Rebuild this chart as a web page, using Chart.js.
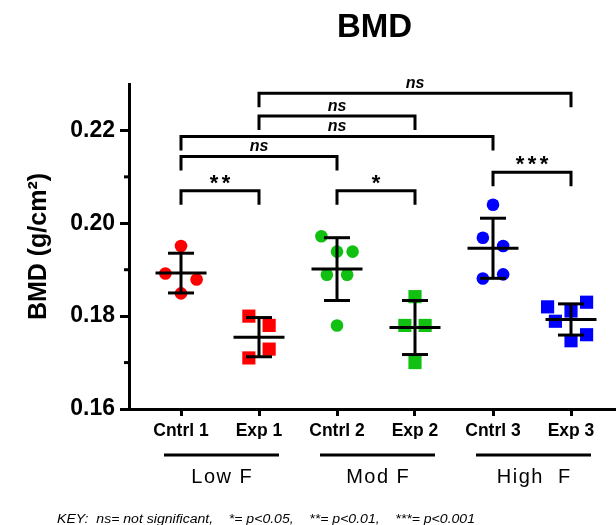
<!DOCTYPE html>
<html>
<head>
<meta charset="utf-8">
<title>BMD</title>
<script src="https://cdn.jsdelivr.net/npm/chart.js@4.4.1/dist/chart.umd.min.js"></script>
<style>
  html, body { margin: 0; padding: 0; background: #fff; }
  #wrap { width: 616px; height: 525px; position: relative; }
</style>
</head>
<body>
<div id="wrap"><canvas id="chartBMD"></canvas></div>
<script>
// BMD per animal (g/cm2)
const categories = ['Cntrl 1', 'Exp 1', 'Cntrl 2', 'Exp 2', 'Cntrl 3', 'Exp 3'];
const groups = ['Low F', 'Mod F', 'High  F'];

const cntrl1 = [0.1951, 0.1892, 0.1879, 0.1849];
const exp1   = [0.1800, 0.1780, 0.1729, 0.1710];
const cntrl2 = [0.1972, 0.1939, 0.1939, 0.1889, 0.1889, 0.1780];
const exp2   = [0.1842, 0.1780, 0.1780, 0.1700];
const cntrl3 = [0.2040, 0.1969, 0.1951, 0.1881, 0.1890];
const exp3   = [0.1820, 0.1830, 0.1789, 0.1811, 0.1747, 0.1760];

const yMajorTicks = [0.16, 0.18, 0.20, 0.22];
const yMinorTicks = [0.17, 0.19, 0.21];

// significance brackets (category numbers, label, bracket level in g/cm2)
const compFrom  = [1, 3, 5, 1, 1, 2, 2];
const compTo    = [2, 4, 6, 3, 5, 4, 6];
const compLabel = ['**', '*', '***', 'ns', 'ns', 'ns', 'ns'];
const compLevel = [0.2070, 0.2070, 0.2110, 0.2144, 0.2187, 0.2231, 0.2280];

const keyText = 'KEY:  ns= not significant,    *= p<0.05,    **= p<0.01,    ***= p<0.001';

// horizontal scatter of the dots, in category units
const jitter = [
  [0, -0.2, 0.2, 0],
  [-0.13, 0.13, 0.13, -0.13],
  [-0.2, 0, 0.2, -0.13, 0.13, 0],
  [0, -0.13, 0.13, 0],
  [0, -0.13, 0.13, -0.13, 0.13],
  [-0.3, 0.2, -0.2, 0, 0, 0.2]
];

const series = [cntrl1, exp1, cntrl2, exp2, cntrl3, exp3];
const colors = ['#ff0000', '#ff0000', '#11c011', '#11c011', '#0000ff', '#0000ff'];
const FONT = '"Liberation Sans", Arial, sans-serif';

function mean(a) { return a.reduce((s, v) => s + v, 0) / a.length; }
function sd(a) {
  const m = mean(a);
  return Math.sqrt(a.reduce((s, v) => s + (v - m) * (v - m), 0) / (a.length - 1));
}
function line(ctx, x1, y1, x2, y2) {
  ctx.beginPath(); ctx.moveTo(x1, y1); ctx.lineTo(x2, y2); ctx.stroke();
}
function spacedText(ctx, text, cx, y, gap) {
  const widths = [...text].map(c => ctx.measureText(c).width);
  const total = widths.reduce((s, w) => s + w, 0) + gap * (text.length - 1);
  let x = cx - total / 2;
  ctx.textAlign = 'left';
  [...text].forEach((c, i) => { ctx.fillText(c, x, y); x += widths[i] + gap; });
}

const extras = {
  id: 'extras',
  afterDatasetsDraw(chart) {
    const { ctx, scales: { x, y } } = chart;
    ctx.save();
    ctx.strokeStyle = '#000';
    ctx.fillStyle = '#000';
    ctx.lineWidth = 3;
    // mean +/- SD
    series.forEach((vals, i) => {
      const m = mean(vals), s = sd(vals);
      const px = x.getPixelForValue(i + 1);
      const pm = y.getPixelForValue(m), pt = y.getPixelForValue(m + s), pb = y.getPixelForValue(m - s);
      line(ctx, px - 25.5, pm, px + 25.5, pm);
      line(ctx, px - 13, pt, px + 13, pt);
      line(ctx, px - 13, pb, px + 13, pb);
      line(ctx, px, pt, px, pb);
    });
    // brackets
    compFrom.forEach((a, i) => {
      const x1 = x.getPixelForValue(a), x2 = x.getPixelForValue(compTo[i]);
      const yl = y.getPixelForValue(compLevel[i]);
      ctx.beginPath();
      ctx.moveTo(x1, yl + 14); ctx.lineTo(x1, yl); ctx.lineTo(x2, yl); ctx.lineTo(x2, yl + 14);
      ctx.stroke();
      const mid = (x1 + x2) / 2;
      ctx.textBaseline = 'alphabetic';
      if (compLabel[i] === 'ns') {
        ctx.font = 'italic bold 16px ' + FONT;
        ctx.textAlign = 'center';
        ctx.fillText('ns', mid, yl - 5);
      } else {
        ctx.font = 'bold 22px ' + FONT;
        ctx.textAlign = 'center';
        const n = compLabel[i].length;
        for (let k = 0; k < n; k++) ctx.fillText('*', mid + (k - (n - 1) / 2) * 12, yl - 1);
      }
    });
    ctx.restore();
  },
  afterDraw(chart) {
    const { ctx, chartArea, scales: { x, y } } = chart;
    ctx.save();
    ctx.strokeStyle = '#000';
    ctx.fillStyle = '#000';
    ctx.lineWidth = 3;
    // minor y ticks
    yMinorTicks.forEach(v => {
      const py = y.getPixelForValue(v);
      line(ctx, chartArea.left - 5, py, chartArea.left, py);
    });
    // title
    ctx.font = 'bold 33px ' + FONT;
    ctx.textAlign = 'center';
    ctx.textBaseline = 'alphabetic';
    ctx.fillText('BMD', (chartArea.left + chartArea.right) / 2 + 2, 37);
    // group lines under the axis
    ctx.font = '20px ' + FONT;
    groups.forEach((g, i) => {
      const a = x.getPixelForValue(2 * i + 1), b = x.getPixelForValue(2 * i + 2);
      line(ctx, a - 17, 455, b + 20, 455);
      spacedText(ctx, g, (a + b) / 2 + 1.5, 482.5, 1.5);
    });
    // key
    ctx.font = 'italic 12px ' + FONT;
    ctx.textAlign = 'left';
    const w = ctx.measureText(keyText).width;
    ctx.translate(57, 522.5);
    ctx.scale(418 / w, 1);
    ctx.fillText(keyText, 0, 0);
    ctx.restore();
  }
};

const chartBMD = new Chart(document.getElementById('chartBMD').getContext('2d'), {
  type: 'scatter',
  data: {
    datasets: series.map((vals, i) => ({
      label: categories[i],
      data: vals.map((v, k) => ({ x: i + 1 + jitter[i][k], y: v })),
      backgroundColor: colors[i],
      borderColor: colors[i],
      pointBorderWidth: 0,
      pointStyle: i % 2 === 0 ? 'circle' : 'rect',
      pointRadius: i % 2 === 0 ? 6.3 : 9.3,
      pointHoverRadius: i % 2 === 0 ? 6.3 : 9.3
    }))
  },
  options: {
    responsive: true,
    maintainAspectRatio: false,
    animation: false,
    events: [],
    layout: { autoPadding: false, padding: { top: 84, right: 0, bottom: 86, left: 0 } },
    plugins: {
      legend: { display: false },
      tooltip: { enabled: false }
    },
    scales: {
      x: {
        type: 'linear',
        min: 1 - 52 / 78,
        max: 1 - 52 / 78 + 487 / 78,
        afterBuildTicks: s => { s.ticks = categories.map((c, i) => ({ value: i + 1 })); },
        afterFit: s => { s.height = 30; s.paddingLeft = 0; s.paddingRight = 0; },
        ticks: {
          font: { family: FONT, size: 17.5, weight: 'bold' },
          color: '#000',
          padding: 5,
          maxRotation: 0,
          autoSkip: false,
          callback: (v, i) => categories[i]
        },
        grid: { drawOnChartArea: false, tickLength: 7, tickWidth: 3, tickColor: '#000' },
        border: { width: 3, color: '#000' }
      },
      y: {
        min: 0.16,
        max: 0.23,
        afterBuildTicks: s => { s.ticks = yMajorTicks.map(v => ({ value: v })); },
        afterFit: s => { s.width = 129; s.paddingTop = 0; s.paddingBottom = 0; },
        ticks: {
          font: { family: FONT, size: 23, weight: 'bold' },
          color: '#000',
          padding: 5,
          callback: v => v.toFixed(2)
        },
        grid: { drawOnChartArea: false, tickLength: 9, tickWidth: 3, tickColor: '#000' },
        border: { width: 3, color: '#000' },
        title: {
          display: true,
          text: 'BMD (g/cm²)',
          font: { family: FONT, size: 25, weight: 'bold' },
          color: '#000',
          padding: { top: 24, bottom: 0 }
        }
      }
    }
  },
  plugins: [extras]
});
</script>
</body>
</html>
